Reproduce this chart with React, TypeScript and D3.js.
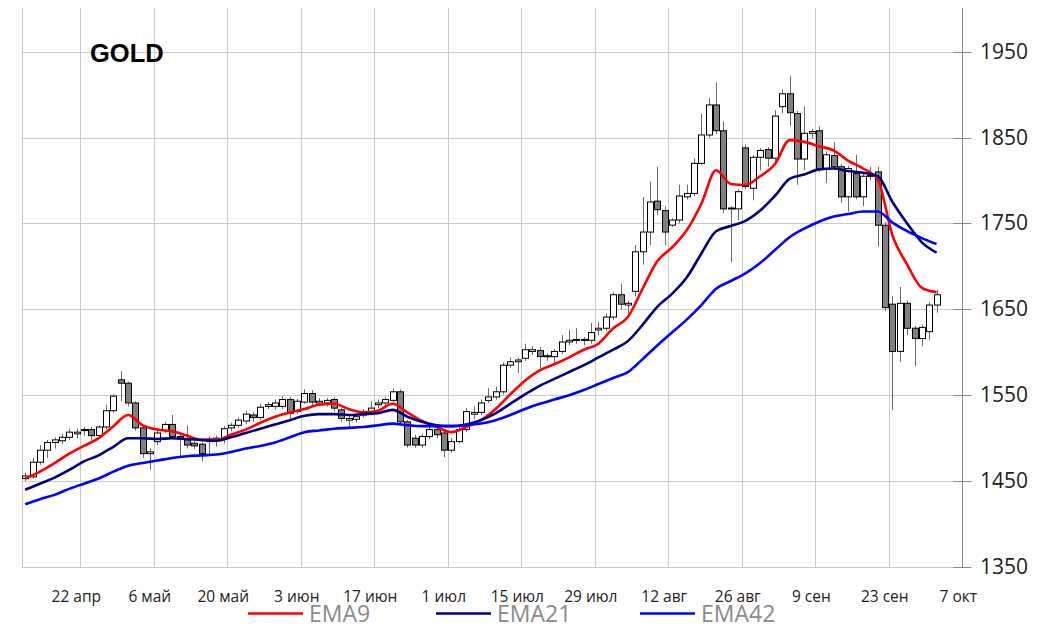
import React from "react";
import * as d3 from "d3";

// ---- candle data (one per trading day, index 0 = 12 Apr) ----
const candleOpen = [
  1453, 1455, 1472, 1486, 1495, 1497, 1501, 1505, 1509, 1510,
  1503, 1513, 1532, 1568, 1564, 1541, 1512, 1482, 1496, 1509,
  1516, 1502, 1498, 1494, 1493, 1496, 1498, 1499, 1512, 1515,
  1520, 1527, 1524, 1537, 1537, 1537, 1545, 1531, 1542, 1552,
  1541, 1541, 1545, 1533, 1521, 1522, 1527, 1531, 1539, 1541,
  1544, 1554, 1519, 1500, 1492, 1502, 1510, 1506, 1486, 1496,
  1510, 1528, 1530, 1544, 1548, 1554, 1585, 1589, 1593, 1601,
  1602, 1595, 1595, 1601, 1612, 1614, 1615, 1614, 1626, 1628,
  1641, 1667, 1655, 1671, 1717, 1740, 1776, 1765, 1748, 1754,
  1781, 1785, 1820, 1853, 1888, 1858, 1767, 1767, 1838, 1791,
  1827, 1836, 1826, 1886, 1901, 1878, 1825, 1855, 1858, 1814,
  1829, 1816, 1781, 1808, 1781, 1805, 1810, 1748, 1656, 1601,
  1657, 1628, 1616, 1624, 1655,
];
const candleHigh = [
  1460, 1477, 1492, 1498, 1501, 1505, 1511, 1511, 1513, 1513,
  1515, 1539, 1551, 1578, 1566, 1543, 1515, 1488, 1512, 1519,
  1527, 1505, 1515, 1497, 1495, 1502, 1503, 1514, 1518, 1524,
  1532, 1530, 1540, 1542, 1545, 1549, 1548, 1546, 1557, 1556,
  1547, 1547, 1548, 1535, 1527, 1528, 1534, 1543, 1545, 1548,
  1558, 1557, 1521, 1504, 1505, 1513, 1513, 1509, 1500, 1513,
  1535, 1537, 1545, 1558, 1560, 1588, 1594, 1594, 1610, 1607,
  1606, 1599, 1604, 1620, 1626, 1628, 1618, 1634, 1635, 1645,
  1670, 1680, 1660, 1725, 1781, 1799, 1816, 1770, 1756, 1795,
  1795, 1826, 1878, 1896, 1914, 1869, 1770, 1790, 1842, 1830,
  1838, 1839, 1882, 1906, 1922, 1881, 1886, 1860, 1863, 1834,
  1845, 1819, 1817, 1830, 1808, 1816, 1816, 1752, 1665, 1676,
  1660, 1631, 1632, 1658, 1673,
];
const candleLow = [
  1450, 1453, 1469, 1477, 1488, 1493, 1498, 1500, 1503, 1498,
  1500, 1510, 1530, 1543, 1537, 1509, 1477, 1463, 1492, 1506,
  1500, 1479, 1488, 1487, 1473, 1482, 1490, 1494, 1508, 1512,
  1516, 1519, 1521, 1534, 1533, 1534, 1521, 1528, 1540, 1538,
  1537, 1537, 1531, 1519, 1513, 1518, 1524, 1528, 1535, 1538,
  1542, 1517, 1489, 1489, 1489, 1499, 1500, 1478, 1483, 1494,
  1507, 1522, 1527, 1541, 1545, 1551, 1582, 1576, 1590, 1597,
  1581, 1590, 1587, 1598, 1608, 1610, 1608, 1610, 1620, 1625,
  1638, 1650, 1640, 1665, 1702, 1725, 1760, 1725, 1746, 1750,
  1778, 1782, 1818, 1850, 1854, 1762, 1705, 1754, 1790, 1777,
  1812, 1816, 1822, 1878, 1863, 1795, 1812, 1849, 1810, 1797,
  1812, 1774, 1764, 1778, 1770, 1800, 1723, 1648, 1533, 1589,
  1620, 1584, 1607, 1614, 1646,
];
const candleClose = [
  1456, 1472, 1486, 1495, 1498, 1501, 1507, 1507, 1510, 1503,
  1513, 1532, 1549, 1564, 1541, 1512, 1482, 1484, 1506, 1516,
  1502, 1500, 1492, 1491, 1482, 1499, 1500, 1511, 1515, 1521,
  1528, 1524, 1536, 1539, 1541, 1545, 1529, 1543, 1552, 1542,
  1543, 1544, 1535, 1523, 1523, 1525, 1531, 1535, 1541, 1545,
  1554, 1519, 1492, 1492, 1502, 1510, 1504, 1486, 1496, 1510,
  1531, 1530, 1541, 1548, 1554, 1585, 1589, 1591, 1603, 1603,
  1595, 1596, 1601, 1612, 1614, 1615, 1614, 1623, 1628, 1641,
  1667, 1656, 1657, 1717, 1740, 1775, 1766, 1740, 1754, 1782,
  1785, 1820, 1853, 1888, 1858, 1767, 1768, 1787, 1793, 1827,
  1835, 1826, 1875, 1901, 1879, 1825, 1855, 1857, 1814, 1830,
  1816, 1781, 1814, 1781, 1805, 1806, 1748, 1652, 1601, 1657,
  1628, 1616, 1629, 1655, 1667,
];

// ---- moving averages, read at every second trading day ----
const emaIndex = [
  0, 2, 4, 6, 8, 10, 12, 14, 16, 18, 20, 22, 24, 26, 28, 30, 32, 34, 36, 38,
  40, 42, 44, 46, 48, 50, 52, 54, 56, 58, 60, 62, 64, 66, 68, 70, 72, 74, 76, 78,
  80, 82, 84, 86, 88, 90, 92, 94, 96, 98, 100, 102, 104, 106, 108, 110, 112, 114,
  116, 118, 120, 122, 124,
];
const ema9 = [
  1453, 1461, 1471, 1482, 1491, 1500, 1514, 1527, 1515, 1510, 1508, 1503, 1498,
  1498, 1504, 1510, 1518, 1525, 1530, 1534, 1539, 1540, 1534, 1530, 1532, 1540,
  1530, 1520, 1513, 1507, 1513, 1521, 1534, 1551, 1567, 1579, 1586, 1594, 1603,
  1610, 1628, 1641, 1674, 1706, 1722, 1742, 1773, 1812, 1796, 1795, 1805, 1819,
  1847, 1845, 1840, 1835, 1823, 1814, 1801, 1736, 1702, 1675, 1670,
];
const ema21 = [
  1440, 1447, 1454, 1463, 1473, 1480, 1490, 1500, 1500, 1499, 1500, 1499, 1498,
  1497, 1501, 1506, 1511, 1516, 1521, 1526, 1528, 1528, 1527, 1528, 1529, 1533,
  1525, 1519, 1515, 1514, 1516, 1521, 1529, 1540, 1551, 1561, 1569, 1577, 1585,
  1594, 1603, 1613, 1632, 1653, 1668, 1687, 1715, 1741, 1747, 1753, 1765, 1782,
  1802, 1807, 1813, 1814, 1811, 1809, 1805, 1775, 1750, 1728, 1716,
];
const ema42 = [
  1423, 1429, 1434, 1441, 1447, 1453, 1461, 1468, 1471, 1474, 1477, 1479, 1480,
  1481, 1484, 1488, 1491, 1495, 1501, 1507, 1509, 1511, 1512, 1513, 1515, 1517,
  1515, 1514, 1514, 1514, 1515, 1517, 1521, 1527, 1534, 1540, 1545, 1550, 1556,
  1563, 1570, 1577, 1592, 1608, 1623, 1638, 1655, 1674, 1683, 1692, 1704, 1719,
  1734, 1744, 1752, 1758, 1761, 1764, 1764, 1751, 1741, 1733, 1726,
];

// ---- axes ----
const xTickIndex = [8, 18, 28, 38, 48, 58, 68, 78, 88, 98, 108, 118, 128];
const xTickLabels = [
  "22 апр", "6 май", "20 май", "3 июн", "17 июн", "1 июл", "15 июл",
  "29 июл", "12 авг", "26 авг", "9 сен", "23 сен", "7 окт",
];
const yTicks = [1350, 1450, 1550, 1650, 1750, 1850, 1950];

const seriesNames = ["EMA9", "EMA21", "EMA42"];
const seriesColors = ["#ff0000", "#000080", "#0000ff"];

export default function App() {
  const W = 1047;
  const H = 627;
  const left = 21.5;
  const right = 962.3;
  const top = 8;
  const bottom = 567;

  const x = d3.scaleLinear().domain([0, 128]).range([left, right]);
  const y = d3.scaleLinear().domain([1350, 1950]).range([bottom, 51.7]);
  const cx = (i: number) => x(i + 0.5);
  const bodyW = 6;

  const emaSeries = [ema9, ema21, ema42];
  const line = d3
    .line<number>()
    .x((_, k) => cx(emaIndex[k]))
    .y((v) => y(v))
    .curve(d3.curveMonotoneX);

  const grid = "#c9c9c9";
  const font = "'Open Sans', 'DejaVu Sans', sans-serif";

  const legendX = [248, 436, 640];

  return (
    <svg
      width={W}
      height={H}
      style={{ position: "absolute", left: 0, top: 0, background: "#fff" }}
    >
      {/* vertical grid */}
      {[0, ...xTickIndex.slice(0, -1)].map((t) => (
        <line
          key={"vg" + t}
          x1={Math.round(x(t)) + 0.5}
          x2={Math.round(x(t)) + 0.5}
          y1={top}
          y2={bottom}
          stroke={grid}
          strokeWidth={1}
        />
      ))}
      {/* horizontal grid + ticks */}
      {yTicks.map((t) => (
        <g key={"hg" + t}>
          <line
            x1={left}
            x2={right}
            y1={Math.round(y(t)) + 0.5}
            y2={Math.round(y(t)) + 0.5}
            stroke={grid}
            strokeWidth={1}
          />
          <line
            x1={right - 9}
            x2={right + 9}
            y1={Math.round(y(t)) + 0.5}
            y2={Math.round(y(t)) + 0.5}
            stroke="#8a8a8a"
            strokeWidth={1}
          />
          <text
            x={980}
            y={y(t) + 7}
            fontFamily={font}
            fontSize={21}
            fill="#222"
          >
            {t}
          </text>
        </g>
      ))}
      {/* right axis line */}
      <line
        x1={Math.round(right) + 0.5}
        x2={Math.round(right) + 0.5}
        y1={top}
        y2={bottom}
        stroke="#8a8a8a"
        strokeWidth={1}
      />

      {/* x labels */}
      {xTickIndex.map((t, k) => (
        <text
          key={"xl" + t}
          x={x(t) - 4}
          y={602}
          textAnchor="middle"
          fontFamily={font}
          fontSize={15.5}
          fill="#222"
        >
          {xTickLabels[k]}
        </text>
      ))}

      {/* candles */}
      {candleOpen.map((o, i) => {
        const c = candleClose[i];
        const hi = candleHigh[i];
        const lo = candleLow[i];
        const up = c >= o;
        const yt = y(Math.max(o, c));
        const yb = y(Math.min(o, c));
        const xc = Math.round(cx(i)) + 0.5;
        return (
          <g key={"c" + i}>
            <line
              x1={xc}
              x2={xc}
              y1={y(hi)}
              y2={y(lo)}
              stroke="#6a6a6a"
              strokeWidth={1}
            />
            <rect
              x={xc - bodyW / 2}
              y={yt}
              width={bodyW}
              height={Math.max(1, yb - yt)}
              fill={up ? "#ffffff" : "#808080"}
              stroke="#000"
              strokeWidth={1}
            />
          </g>
        );
      })}

      {/* EMA lines */}
      {emaSeries.map((s, k) => (
        <path
          key={"ema" + k}
          d={line(s) || ""}
          fill="none"
          stroke={seriesColors[k]}
          strokeWidth={2.6}
          strokeLinejoin="round"
        />
      ))}

      {/* title */}
      <text
        x={90}
        y={62}
        fontFamily="'Liberation Sans', Arial, sans-serif"
        fontWeight="bold"
        fontSize={25.5}
        fill="#000"
      >
        GOLD
      </text>

      {/* legend */}
      {seriesNames.map((n, k) => (
        <g key={"lg" + n}>
          <line
            x1={legendX[k]}
            x2={legendX[k] + 55}
            y1={613.5}
            y2={613.5}
            stroke={seriesColors[k]}
            strokeWidth={2.6}
          />
          <text
            x={legendX[k] + 61}
            y={622}
            fontFamily={font}
            fontSize={23}
            fill="#8a8a8a"
          >
            {n}
          </text>
        </g>
      ))}
    </svg>
  );
}
